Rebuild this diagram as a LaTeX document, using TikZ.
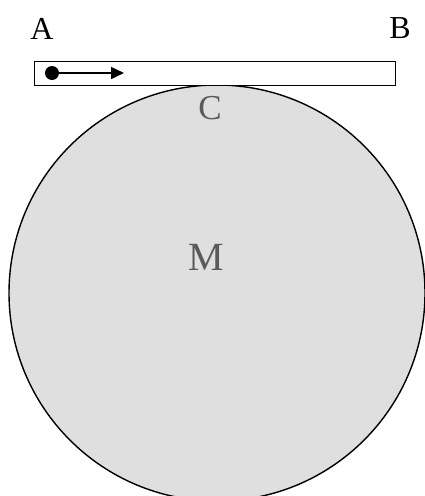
\documentclass[tikz,border=0pt]{standalone}
\usepackage{fontspec}
\setmainfont{Liberation Serif}
\usepackage{xcolor}
\usetikzlibrary{arrows.meta,positioning}

\definecolor{discgray}{HTML}{DFDFDF}
\definecolor{labelgray}{HTML}{5A5A5A}

\begin{document}
\begin{tikzpicture}[x=1pt, y=-1pt,
  endlabel/.style={inner sep=0pt, font=\fontsize{32}{32}\selectfont, text=black},
  disclabel/.style={inner sep=0pt, text=labelgray},
  rail/.style={draw=black, line width=1.3pt, fill=white},
  ball/.style={circle, fill=black, inner sep=0pt, minimum size=14pt},
  push/.style={-{Triangle[length=13pt, width=12pt]}, line width=1.6pt}
]
\useasboundingbox (0,0) rectangle (425,496);

% Disc
\node[circle, draw=black, line width=1.4pt, fill=discgray, minimum size=416pt, inner sep=0pt] (disc) at (217,293) {};
\node[disclabel, font=\fontsize{35}{35}\selectfont] (c) at (210,108) {C};
\node[disclabel, font=\fontsize{40}{40}\selectfont] (m) at (206,257.5) {M};

% Rail on top
\node[rail, rectangle, minimum width=361pt, minimum height=24pt, inner sep=0pt, anchor=north west] (bar) at (34,61) {};
\node[endlabel] (a) at (42,28.5) {A};
\node[endlabel] (b) at (400,28.5) {B};

% Ball and its velocity
\node[ball] (dot) at (52,73) {};
\coordinate (tip) at (124,73);
\draw[push] (dot.center) -- (tip);

\end{tikzpicture}
\end{document}
